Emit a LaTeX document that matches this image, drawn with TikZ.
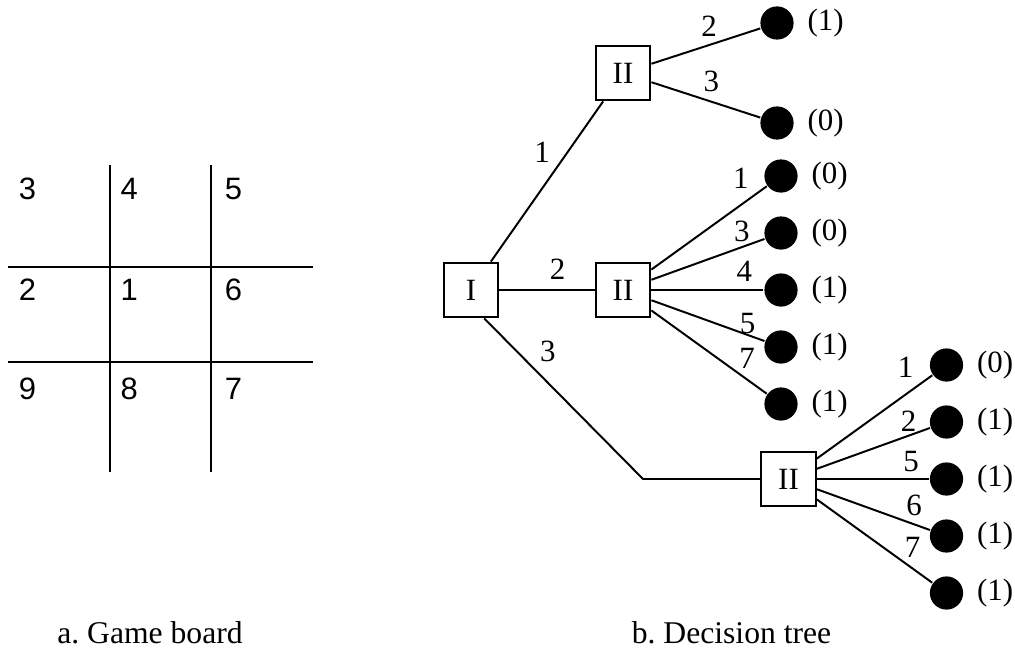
\documentclass[tikz,border=0pt]{standalone}
\usepackage{fontspec}
\setmainfont{Liberation Serif}
\newfontfamily\boardfont{Liberation Sans}
\usetikzlibrary{positioning}

\begin{document}
\begin{tikzpicture}[line width=1.4pt]
	\tikzstyle{player} = [draw, rectangle, on grid, minimum size=1.37cm, inner sep=0pt, font=\fontsize{22}{26}\selectfont]
	\tikzstyle{leaf} = [circle, fill, on grid, minimum size=0.83cm, inner sep=0pt]
	\tikzstyle{line} = [draw]
	\tikzstyle{move} = [inner sep=0pt, font=\fontsize{22}{26}\selectfont]
	\tikzstyle{cell} = [anchor=west, inner sep=0pt, font=\boardfont\fontsize{22}{26}\selectfont]
	\tikzstyle{caption} = [inner sep=0pt, font=\fontsize{22.5}{27}\selectfont]
	\tikzset{every label/.style={inner sep=0pt, xshift=0.3cm, font=\fontsize{22}{26}\selectfont}}
	\useasboundingbox (0,0) rectangle (25.375,-16.225);
	
	% game board
	\draw (2.75,-4.125) -- (2.75,-11.8);
	\draw (5.275,-4.125) -- (5.275,-11.8);
	\draw (0.2,-6.675) -- (7.825,-6.675);
	\draw (0.2,-9.05) -- (7.825,-9.05);
	\node [cell] (cell3) at (0.45,-4.725) {3};
	\node [cell] (cell4) at (2.99,-4.725) {4};
	\node [cell] (cell5) at (5.6,-4.725) {5};
	\node [cell] (cell2) at (0.45,-7.25) {2};
	\node [cell] (cell1) at (2.99,-7.25) {1};
	\node [cell] (cell6) at (5.6,-7.25) {6};
	\node [cell] (cell9) at (0.45,-9.725) {9};
	\node [cell] (cell8) at (2.99,-9.725) {8};
	\node [cell] (cell7) at (5.6,-9.725) {7};
	\node [caption] (capA) at (3.75,-15.825) {a.\ Game board};
	
	% decision tree
	\node [player] (I) at (11.775,-7.25) {I};
	\node [player, above right=5.425cm and 3.8cm of I] (IIa) {II};
	\node [player, right=3.8cm of I] (IIb) {II};
	\node [player, below right=4.725cm and 4.1375cm of IIb] (IIc) {II};
	\coordinate [on grid, left=3.6375cm of IIc] (bend);
	
	\node [leaf, above right=1.25cm and 3.85cm of IIa, label={right:{(1)}}] (a2) {};
	\node [leaf, below right=1.25cm and 3.85cm of IIa, label={right:{(0)}}] (a3) {};
	
	\node [leaf, above right=2.85cm and 3.95cm of IIb, label={right:{(0)}}] (b1) {};
	\node [leaf, above right=1.425cm and 3.95cm of IIb, label={right:{(0)}}] (b3) {};
	\node [leaf, right=3.95cm of IIb, label={right:{(1)}}] (b4) {};
	\node [leaf, below right=1.425cm and 3.95cm of IIb, label={right:{(1)}}] (b5) {};
	\node [leaf, below right=2.85cm and 3.95cm of IIb, label={right:{(1)}}] (b7) {};
	
	\node [leaf, above right=2.85cm and 3.95cm of IIc, label={right:{(0)}}] (c1) {};
	\node [leaf, above right=1.425cm and 3.95cm of IIc, label={right:{(1)}}] (c2) {};
	\node [leaf, right=3.95cm of IIc, label={right:{(1)}}] (c5) {};
	\node [leaf, below right=1.425cm and 3.95cm of IIc, label={right:{(1)}}] (c6) {};
	\node [leaf, below right=2.85cm and 3.95cm of IIc, label={right:{(1)}}] (c7) {};
	
	\path [line] (I) -- node[move, pos=0.68, left=0.41cm] {1} (IIa);
	\path [line] (I) -- node[move, pos=0.61, above=0.24cm] {2} (IIb);
	\path [line] (I.-65) -- node[move, pos=0.3, above right=0.1cm and 0.18cm] {3} (bend) -- (IIc);
	
	\path [line] (IIa) -- node[move, pos=0.53, above=0.18cm] {2} (a2);
	\path [line] (IIa) -- node[move, pos=0.55, above=0.21cm] {3} (a3);
	
	\path [line] (IIb) -- node[move, pos=0.775, above=0.4cm] {1} (b1);
	\path [line] (IIb) -- node[move, pos=0.8, above=0.11cm] {3} (b3);
	\path [line] (IIb) -- node[move, pos=0.83, above=0.19cm] {4} (b4);
	\path [line] (IIb) -- node[move, pos=0.85, above=0cm] {5} (b5);
	\path [line] (IIb) -- node[move, pos=0.83, above=0.25cm] {7} (b7);
	
	\path [line] (IIc) -- node[move, pos=0.77, above=0.4cm] {1} (c1);
	\path [line] (IIc) -- node[move, pos=0.81, above=0.07cm] {2} (c2);
	\path [line] (IIc) -- node[move, pos=0.84, above=0.16cm] {5} (c5);
	\path [line] (IIc) -- node[move, pos=0.86, above=0.18cm] {6} (c6);
	\path [line] (IIc) -- node[move, pos=0.83, above=0.25cm] {7} (c7);
	\node [caption] (capB) at (18.2875,-15.825) {b.\ Decision tree};
\end{tikzpicture}
\end{document}
